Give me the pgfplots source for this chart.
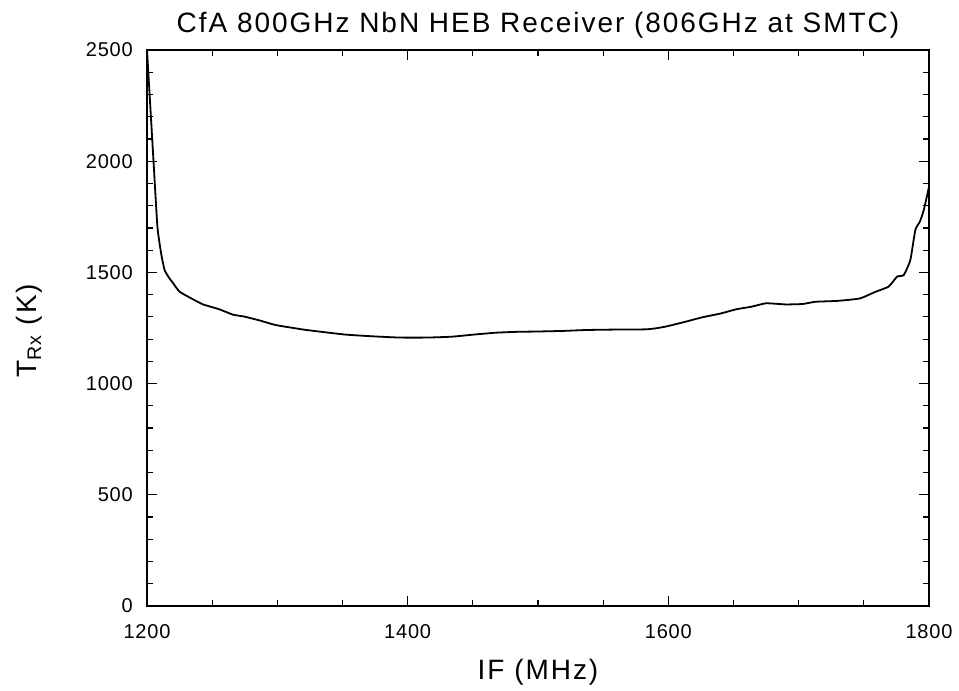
\documentclass[border=0pt]{standalone}
\usepackage{pgfplots}
\pgfplotsset{compat=1.18}
\usepackage{fontspec}
\setmainfont{Liberation Sans}
\newfontfamily\spaced[LetterSpace=7]{Liberation Sans}
\newfontfamily\tickfont[LetterSpace=4]{Liberation Sans}
\begin{document}
\begin{tikzpicture}
\begin{axis}[
  scale only axis,
  width=782pt, height=556pt,
  xmin=1200, xmax=1800, ymin=0, ymax=2500,
  xtick={1200,1400,1600,1800},
  ytick={0,500,1000,1500,2000,2500},
  minor x tick num=3,
  minor y tick num=4,
  tick align=inside,
  major tick length=10pt,
  minor tick length=6pt,
  axis line style={line width=1.6pt},
  every tick/.style={line width=1.2pt, black},
  /pgf/number format/assume math mode=true,
  /pgf/number format/1000 sep={},
  tick label style={font=\tickfont\fontsize{20}{22}\selectfont, inner sep=0pt},
  xticklabel style={anchor=center, yshift=-26pt},
  yticklabel style={anchor=east, xshift=-14pt},
  title={CfA 800GHz NbN HEB Receiver (806GHz at SMTC)},
  title style={font=\spaced\fontsize{28}{30}\selectfont, at={(axis description cs:0.5,1.033)}, anchor=center, inner sep=0pt},
  xlabel={IF (MHz)},
  ylabel={T\textsubscript{Rx} (K)},
  label style={font=\spaced\fontsize{28}{30}\selectfont, inner sep=0pt},
  xlabel style={at={(axis description cs:0.5,-0.119)}, anchor=center},
  ylabel style={at={(axis description cs:-0.151,0.495)}, anchor=center},
]
\addplot[black, line width=1.8pt, smooth, tension=0.3] coordinates {
(1200,2500) (1203,2200) (1205,2000) (1208,1705) (1211,1580) (1213.5,1511)
(1217,1475) (1220,1452) (1225,1413) (1235,1380) (1243,1356) (1255,1335)
(1266,1310) (1275,1301) (1287,1283) (1299,1263) (1320,1243) (1335,1232)
(1353,1220) (1375,1212) (1394,1207) (1415,1207) (1434,1211) (1450,1220)
(1468,1229) (1485,1233) (1498,1234) (1520,1237) (1537,1241) (1560,1243)
(1583,1244) (1592,1250) (1600,1259) (1613,1278) (1626,1298) (1640,1315)
(1652,1334) (1664,1346) (1675,1361) (1690,1356) (1703,1358) (1713,1368)
(1730,1372) (1747,1383) (1759,1413) (1769,1436) (1775.5,1481) (1780.6,1488)
(1785.7,1556) (1789.5,1691) (1793,1728) (1796,1781) (1800,1885)
};
\end{axis}
\pgfresetboundingbox
\path[use as bounding box] (current axis.south west) ++(-147pt,-84pt) rectangle ([shift={(30pt,50pt)}]current axis.north east);
\end{tikzpicture}
\end{document}
